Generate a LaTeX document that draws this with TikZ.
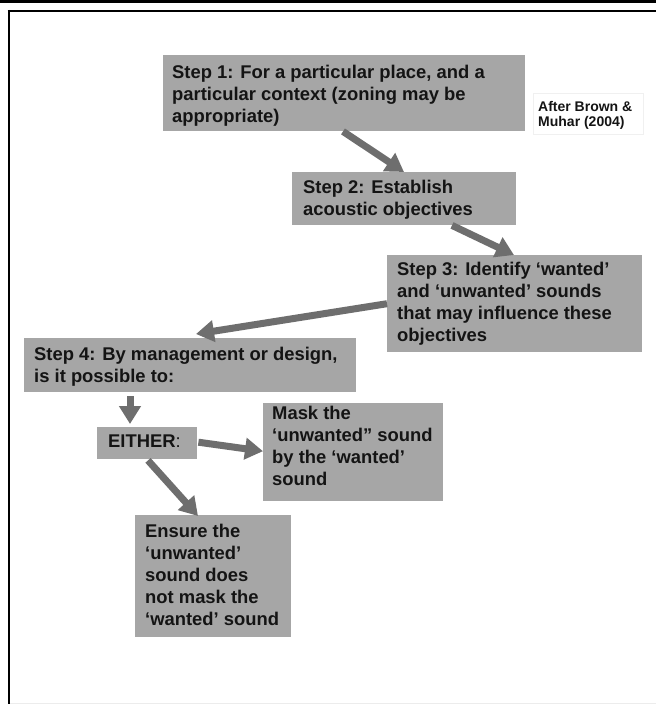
\documentclass[tikz,border=0pt]{standalone}
\usepackage{fontspec}
\setmainfont{Liberation Sans}
\usetikzlibrary{arrows.meta,calc}
\definecolor{boxgray}{HTML}{A6A6A6}
\definecolor{arrgray}{HTML}{6E6E6E}
\definecolor{txt}{HTML}{141414}
\tikzset{
  stepbox/.style={draw=none,fill=boxgray,rectangle,inner sep=0pt,anchor=north west},
  steptext/.style={anchor=north west,inner sep=0pt,align=left,text=txt,
    font=\bfseries\fontsize{18.4}{22}\selectfont},
  flowarrow/.style={draw=arrgray,line width=7pt,-{Triangle[width=21pt,length=18pt]}},
}
\begin{document}
\begin{tikzpicture}[x=1pt,y=-1pt]
\useasboundingbox (0,0) rectangle (656,704);
\fill[white] (0,0) rectangle (656,704);
% frame
\draw[line width=3pt] (0,1.5) -- (656,1.5);
\draw[line width=2.5pt] (7.5,11) -- (656,11);
\draw[line width=2.5pt] (9,9.8) -- (9,704);
\draw[gray!15,line width=1pt] (10,703) -- (656,703);
% boxes
\node[stepbox,minimum width=362pt,minimum height=76pt] (s1) at (163,55) {};
\node[stepbox,minimum width=224pt,minimum height=53pt] (s2) at (292,172) {};
\node[stepbox,minimum width=255pt,minimum height=97pt] (s3) at (387,255) {};
\node[stepbox,minimum width=332pt,minimum height=54pt] (s4) at (24,338) {};
\node[stepbox,minimum width=100pt,minimum height=32pt] (e) at (97,427) {};
\node[stepbox,minimum width=180pt,minimum height=98pt] (m) at (263,403) {};
\node[stepbox,minimum width=156pt,minimum height=122pt] (en) at (135,515) {};
\node[draw=gray!12,fill=white,rectangle,inner sep=0pt,anchor=north west,
  minimum width=110pt,minimum height=41pt] (cite) at (533,93) {};
% texts
\node[steptext] (s1t) at (172,65) {Step 1: For a particular place, and a\\particular context (zoning may be\\appropriate)};
\node[steptext] (s2t) at (303,180) {Step 2: Establish\\acoustic objectives};
\node[steptext] (s3t) at (397,262) {Step 3: Identify ‘wanted’\\and ‘unwanted’ sounds\\that may influence these\\objectives};
\node[steptext] (s4t) at (34,347) {Step 4: By management or design,\\is it possible to:};
\node[steptext] (et) at (108,435) {EITHER\mdseries:};
\node[steptext] (mt) at (272,406) {Mask the\\‘unwanted” sound\\by the ‘wanted’\\sound};
\node[steptext] (ent) at (145,524) {Ensure the\\‘unwanted’\\sound does\\not mask the\\‘wanted’ sound};
\node[anchor=north west,inner sep=0pt,align=left,text=txt,
  font=\bfseries\fontsize{14}{15}\selectfont] (citet) at (538,101) {After Brown \&\\Muhar (2004)};
% arrows
\draw[flowarrow] ($(s1.south west)+(180,0)$) -- ($(s2.north west)+(112,0)$);
\draw[flowarrow] ($(s2.south west)+(160,0)$) -- ($(s3.north west)+(127,0)$);
\draw[flowarrow] (s3.west) -- ($(s4.north west)+(172,-4)$);
\draw[flowarrow] ($(s4.south west)+(106,4)$) -- ($(e.north west)+(33,-3)$);
\draw[flowarrow] ($(e.east)+(1,-1)$) -- ($(m.west)+(0,-1)$);
\draw[flowarrow] ($(e.south west)+(51,1)$) -- ($(en.north west)+(63,1)$);
\end{tikzpicture}
\end{document}
